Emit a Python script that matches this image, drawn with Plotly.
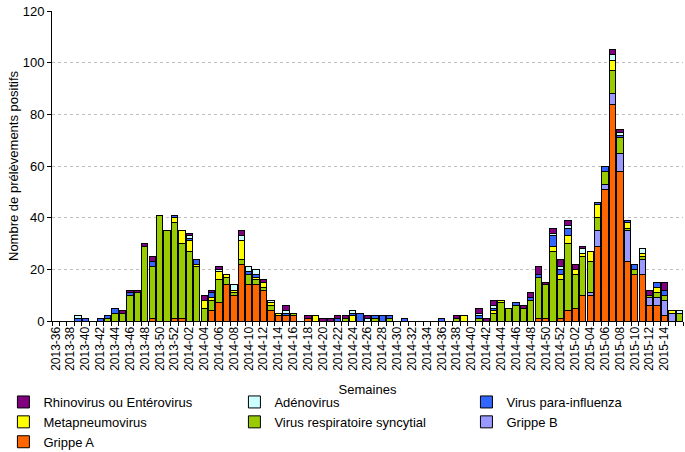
import plotly.graph_objects as go

# week labels 2013-36 .. 2015-16
weeks = ([f"2013-{w:02d}" for w in range(36, 53)]
         + [f"2014-{w:02d}" for w in range(1, 53)]
         + [f"2015-{w:02d}" for w in range(1, 17)])

grippe_a = [0,0,0,0,0,0,0,0,0,0, 0,0,0,1,0,0,1,1,0,0,
            0,4,7,14,10,22,14,14,12,4, 2,2,2,0,1,0,0,0,0,0,
            0,0,0,0,0,0,0,0,0,0, 0,0,0,0,0,0,0,0,0,0,
            0,0,0,0,0,1,1,0,1,4, 5,10,10,29,51,84,58,23,18,18,
            6,6,2,0,0]
grippe_b = [0]*72 + [1,6,2,4,7,12,0,6,3,3,6,3,0]
rsv = [0,0,0,0,0,0,0,1,3,3, 10,11,29,20,41,35,37,29,27,21,
       5,4,9,3,1,2,4,2,1,2, 0,0,1,0,0,0,0,0,0,1,
       0,0,0,1,0,1,0,0,0,0, 0,0,0,0,1,0,0,1,0,3,
       7,5,6,5,8,16,13,27,15,26, 13,15,12,5,5,9,6,1,2,1,
       1,2,2,0,3]
metapneumo = [0,0,0,0,0,0,0,0,0,0, 0,0,0,0,0,0,2,5,4,1,
              3,1,3,1,1,7,0,1,2,1, 1,0,0,0,0,2,0,0,0,0,
              2,0,0,0,0,0,0,0,0,0, 0,0,0,0,0,2,0,0,0,1,
              1,0,0,0,0,0,0,2,2,3, 2,1,4,5,0,4,0,2,0,1,
              0,2,0,1,0]
para_influenza = [0,0,0,1,1,0,1,1,2,0, 1,0,0,2,0,0,1,0,1,2,
                  0,2,0,0,0,0,1,1,0,0, 0,1,0,0,0,0,0,0,1,0,
                  1,3,0,1,2,1,0,1,0,0, 0,0,1,0,0,0,0,1,0,1,
                  0,0,1,0,1,1,0,4,2,3, 0,0,0,1,2,0,1,1,2,0,
                  0,2,2,0,0]
adenovirus = [0,0,0,1,0,0,0,0,0,0, 0,0,0,0,0,0,0,0,1,0,
              0,0,1,0,2,2,2,2,0,1, 0,1,0,0,0,0,0,0,0,0,
              1,0,1,0,0,0,0,0,0,0, 0,0,0,0,0,0,0,1,0,1,
              0,0,0,0,0,0,0,1,1,1, 0,2,0,0,0,2,1,0,0,2,
              0,0,0,0,1]
rhino_entero = [0,0,0,0,0,0,0,0,0,1, 1,1,1,2,0,0,0,0,1,0,
                2,1,1,0,0,2,0,0,1,0, 0,2,0,0,1,0,1,1,1,1,
                0,0,1,0,0,0,0,0,0,0, 0,0,0,0,1,0,0,2,1,2,
                0,0,0,1,2,3,1,2,3,2, 2,1,0,0,0,2,1,0,0,0,
                2,0,3,0,0]

series = [
    ("Grippe A", grippe_a, "#FF6600", "legend"),
    ("Grippe B", grippe_b, "#9999FF", "legend3"),
    ("Virus respiratoire syncytial", rsv, "#99CC00", "legend2"),
    ("Metapneumovirus", metapneumo, "#FFFF00", "legend"),
    ("Virus para-influenza", para_influenza, "#3366FF", "legend3"),
    ("Adénovirus", adenovirus, "#CCFFFF", "legend2"),
    ("Rhinovirus ou Entérovirus", rhino_entero, "#800080", "legend"),
]

xpos = list(range(len(weeks)))
FONT = "Arial, Liberation Sans, sans-serif"

fig = go.Figure()
for name, vals, color, leg in series:
    fig.add_trace(go.Bar(
        x=xpos, y=vals, name=name, legend=leg,
        marker=dict(color=color, line=dict(color="black", width=1)),
    ))

fig.update_layout(
    barmode="stack", bargap=0.15,
    width=685, height=452,
    margin=dict(l=52, r=2, t=11, b=131, autoexpand=False),
    paper_bgcolor="white", plot_bgcolor="white",
    font=dict(family=FONT, size=13, color="black"),
    showlegend=True,
)

leg_common = dict(orientation="v", traceorder="reversed", yanchor="top",
                  y=-0.2129, xanchor="left", bgcolor="rgba(0,0,0,0)",
                  font=dict(family=FONT, size=13, color="black"),
                  itemwidth=30, tracegroupgap=0)
fig.update_layout(
    legend=dict(x=-0.077, **leg_common),
    legend2=dict(x=0.2891, **leg_common),
    legend3=dict(x=0.6568, **leg_common),
)

fig.update_xaxes(
    range=[-0.5, len(weeks) - 0.5], automargin=False,
    tickmode="array", tickvals=xpos[::2], ticktext=weeks[::2],
    tickangle=-90, tickfont=dict(family=FONT, size=12, color="black"),
    ticks="", showline=True, linecolor="black", linewidth=1,
    showgrid=False, zeroline=False,
    minor=dict(tickmode="array", tickvals=[p - 0.5 for p in xpos] + [len(weeks) - 0.5],
               ticks="outside", ticklen=4, tickcolor="black", showgrid=False),
    title=dict(text="Semaines", font=dict(family=FONT, size=13), standoff=15),
)
fig.update_yaxes(
    range=[0, 120], dtick=20, automargin=False,
    showline=True, linecolor="black", linewidth=1,
    ticks="outside", ticklen=4, tickcolor="black",
    tickfont=dict(family=FONT, size=13, color="black"),
    showgrid=True, gridcolor="#BFBFBF", griddash="dot", gridwidth=1,
    zeroline=False,
    title=dict(text="Nombre de prélèvements positifs", font=dict(family=FONT, size=13), standoff=1),
)

fig.write_html("out.html", config={"displayModeBar": False},
               post_script="document.body.style.margin='0';")
